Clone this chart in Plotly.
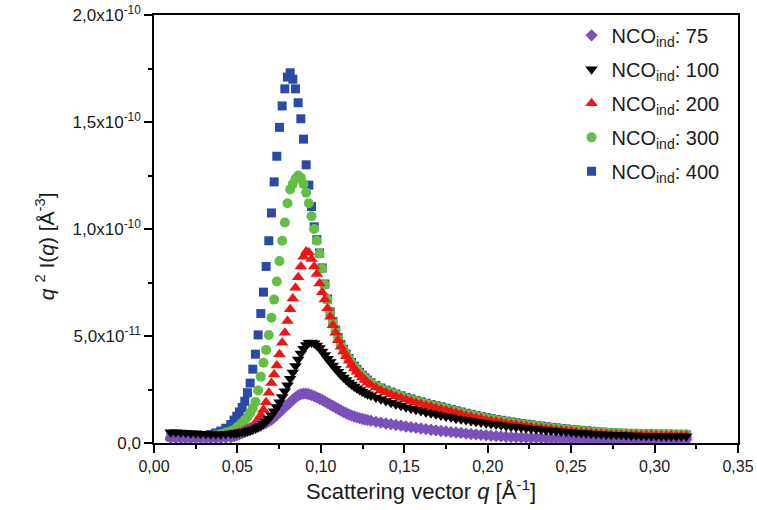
import plotly.graph_objects as go

# scattering vector q [1/Å] (shared by all five curves)
q = [
    0.010, 0.013, 0.016, 0.019, 0.022, 0.025, 0.028, 0.031, 0.034, 0.037, 0.040, 0.043, 0.046,
    0.0480, 0.0496, 0.0512, 0.0528, 0.0544, 0.0560, 0.0576, 0.0592, 0.0608, 0.0624,
    0.0640, 0.0656, 0.0672, 0.0688, 0.0704, 0.0720, 0.0736, 0.0752, 0.0768, 0.0784,
    0.0800, 0.0816, 0.0832, 0.0848, 0.0864, 0.0880, 0.0896, 0.0912, 0.0928, 0.0944,
    0.0960, 0.0976, 0.0992, 0.1008, 0.1024, 0.1040, 0.1056, 0.1072, 0.1088, 0.1104,
    0.1120, 0.1136, 0.1152, 0.1168, 0.1184, 0.1200, 0.1216, 0.1232, 0.1248, 0.1264, 0.1280,
    0.130, 0.133, 0.136, 0.139, 0.142, 0.145, 0.148, 0.151,
    0.154, 0.157, 0.160, 0.163, 0.166, 0.169, 0.172, 0.175,
    0.178, 0.181, 0.184, 0.187, 0.190, 0.193, 0.196, 0.199,
    0.202, 0.205, 0.208, 0.211, 0.214, 0.217, 0.220, 0.223,
    0.226, 0.229, 0.232, 0.235, 0.238, 0.241, 0.244, 0.247,
    0.250, 0.253, 0.256, 0.259, 0.262, 0.265, 0.268, 0.271,
    0.274, 0.277, 0.280, 0.283, 0.286, 0.289, 0.292, 0.295,
    0.298, 0.301, 0.304, 0.307, 0.310, 0.313, 0.316, 0.319,
]

# q^2 I(q) in units of 1e-11 Å^-3
nco75 = [
    0.24, 0.23, 0.23, 0.22, 0.22, 0.22, 0.22, 0.22, 0.22, 0.22, 0.23, 0.24, 0.27,
    0.32, 0.36, 0.41, 0.46, 0.51, 0.56, 0.61, 0.66, 0.71, 0.77,
    0.83, 0.88, 0.94, 1.02, 1.10, 1.20, 1.31, 1.43, 1.55, 1.67,
    1.78, 1.90, 2.02, 2.13, 2.22, 2.28, 2.31, 2.31, 2.28, 2.24,
    2.19, 2.13, 2.07, 2.01, 1.94, 1.87, 1.80, 1.73, 1.66, 1.59,
    1.52, 1.45, 1.39, 1.33, 1.28, 1.24, 1.20, 1.16, 1.13, 1.10, 1.07,
    1.04, 0.99, 0.95, 0.91, 0.88, 0.84, 0.81, 0.77,
    0.74, 0.71, 0.68, 0.65, 0.62, 0.59, 0.56, 0.54,
    0.51, 0.49, 0.47, 0.44, 0.42, 0.40, 0.38, 0.36,
    0.34, 0.32, 0.31, 0.29, 0.28, 0.27, 0.26, 0.25,
    0.24, 0.24, 0.23, 0.22, 0.21, 0.21, 0.20, 0.20,
    0.19, 0.19, 0.19, 0.18, 0.18, 0.18, 0.17, 0.17,
    0.17, 0.17, 0.16, 0.16, 0.16, 0.16, 0.15, 0.15,
    0.15, 0.15, 0.15, 0.15, 0.15, 0.15, 0.15, 0.15,
]
nco100 = [
    0.50, 0.50, 0.49, 0.48, 0.46, 0.45, 0.43, 0.42, 0.41, 0.41, 0.41, 0.42, 0.44,
    0.45, 0.47, 0.49, 0.51, 0.53, 0.56, 0.59, 0.63, 0.68, 0.74,
    0.80, 0.90, 1.02, 1.15, 1.30, 1.48, 1.68, 1.90, 2.15, 2.42,
    2.70, 3.00, 3.30, 3.60, 3.90, 4.18, 4.40, 4.58, 4.68, 4.70,
    4.66, 4.56, 4.44, 4.28, 4.11, 3.94, 3.78, 3.62, 3.47, 3.33,
    3.19, 3.06, 2.94, 2.83, 2.73, 2.64, 2.56, 2.48, 2.41, 2.34, 2.28,
    2.22, 2.13, 2.04, 1.96, 1.88, 1.81, 1.74, 1.67,
    1.61, 1.55, 1.49, 1.44, 1.39, 1.34, 1.29, 1.24,
    1.20, 1.15, 1.11, 1.07, 1.03, 0.99, 0.96, 0.92,
    0.89, 0.86, 0.83, 0.80, 0.77, 0.75, 0.72, 0.70,
    0.67, 0.65, 0.63, 0.60, 0.58, 0.56, 0.54, 0.52,
    0.50, 0.48, 0.47, 0.45, 0.44, 0.42, 0.41, 0.40,
    0.39, 0.38, 0.37, 0.36, 0.35, 0.35, 0.34, 0.34,
    0.33, 0.33, 0.32, 0.32, 0.32, 0.31, 0.31, 0.31,
]
nco200 = [
    0.26, 0.25, 0.25, 0.25, 0.25, 0.25, 0.25, 0.26, 0.27, 0.29, 0.32, 0.35, 0.39,
    0.42, 0.46, 0.50, 0.54, 0.59, 0.65, 0.72, 0.80, 0.93, 1.10,
    1.30, 1.55, 1.90, 2.35, 2.80, 3.20, 3.62, 4.15, 4.68, 5.15,
    5.70, 6.25, 6.75, 7.25, 7.75, 8.25, 8.70, 8.95, 8.90, 8.60,
    8.25, 7.90, 7.45, 7.05, 6.70, 6.30, 5.90, 5.50, 5.15, 4.80,
    4.50, 4.27, 4.05, 3.84, 3.65, 3.48, 3.33, 3.19, 3.06, 2.94, 2.83,
    2.72, 2.59, 2.47, 2.37, 2.28, 2.19, 2.11, 2.03,
    1.96, 1.89, 1.82, 1.76, 1.70, 1.64, 1.59, 1.53,
    1.47, 1.41, 1.35, 1.29, 1.24, 1.19, 1.14, 1.09,
    1.04, 1.00, 0.96, 0.92, 0.89, 0.86, 0.82, 0.79,
    0.76, 0.73, 0.70, 0.67, 0.64, 0.62, 0.59, 0.57,
    0.55, 0.53, 0.51, 0.49, 0.47, 0.46, 0.44, 0.43,
    0.42, 0.41, 0.40, 0.39, 0.38, 0.38, 0.37, 0.37,
    0.37, 0.36, 0.36, 0.36, 0.36, 0.35, 0.35, 0.35,
]
nco300 = [
    0.26, 0.25, 0.25, 0.25, 0.25, 0.25, 0.26, 0.28, 0.31, 0.36, 0.42, 0.49, 0.56,
    0.62, 0.72, 0.82, 0.94, 1.06, 1.22, 1.40, 1.62, 1.92, 2.45,
    3.10, 3.75, 4.35, 5.05, 5.85, 6.70, 7.55, 8.50, 9.45, 10.30,
    11.20, 11.85, 12.10, 12.35, 12.50, 12.40, 12.10, 11.70, 11.20, 10.60,
    10.00, 9.45, 8.85, 8.15, 7.40, 6.70, 6.10, 5.65, 5.25, 4.90,
    4.58, 4.35, 4.13, 3.92, 3.73, 3.56, 3.41, 3.27, 3.14, 3.02, 2.91,
    2.79, 2.66, 2.54, 2.44, 2.35, 2.26, 2.18, 2.10,
    2.03, 1.96, 1.89, 1.83, 1.77, 1.71, 1.66, 1.60,
    1.54, 1.48, 1.42, 1.36, 1.31, 1.26, 1.21, 1.16,
    1.11, 1.07, 1.03, 0.99, 0.95, 0.92, 0.88, 0.85,
    0.82, 0.79, 0.76, 0.73, 0.70, 0.68, 0.65, 0.63,
    0.61, 0.59, 0.57, 0.55, 0.53, 0.52, 0.50, 0.49,
    0.48, 0.47, 0.46, 0.45, 0.44, 0.44, 0.43, 0.43,
    0.43, 0.42, 0.42, 0.42, 0.42, 0.41, 0.41, 0.41,
]
nco400 = [
    0.27, 0.26, 0.26, 0.26, 0.26, 0.27, 0.29, 0.33, 0.40, 0.47, 0.56, 0.69, 0.86,
    1.07, 1.25, 1.45, 1.66, 1.95, 2.35, 2.80, 3.45, 4.15, 5.05,
    6.05, 7.05, 8.25, 9.45, 10.75, 12.20, 13.40, 14.75, 15.75, 16.55,
    17.10, 17.30, 17.00, 16.55, 15.90, 15.15, 14.20, 13.00, 12.05, 11.05,
    10.10, 9.50, 8.88, 8.18, 7.43, 6.73, 6.13, 5.68, 5.28, 4.93,
    4.61, 4.38, 4.16, 3.95, 3.76, 3.59, 3.44, 3.30, 3.17, 3.05, 2.94,
    2.82, 2.69, 2.57, 2.47, 2.38, 2.29, 2.21, 2.13,
    2.06, 1.99, 1.92, 1.86, 1.80, 1.74, 1.69, 1.63,
    1.57, 1.51, 1.45, 1.39, 1.34, 1.29, 1.24, 1.19,
    1.14, 1.10, 1.06, 1.02, 0.98, 0.95, 0.91, 0.88,
    0.85, 0.82, 0.79, 0.76, 0.73, 0.71, 0.68, 0.66,
    0.63, 0.61, 0.59, 0.57, 0.55, 0.53, 0.51, 0.49,
    0.47, 0.46, 0.45, 0.44, 0.43, 0.42, 0.41, 0.41,
    0.40, 0.40, 0.39, 0.39, 0.39, 0.38, 0.38, 0.38,
]

y_tickvals = [0, 5e-11, 1e-10, 1.5e-10, 2e-10]
y_ticktext = ["0,0", "5,0x10<sup>-11</sup>", "1,0x10<sup>-10</sup>",
              "1,5x10<sup>-10</sup>", "2,0x10<sup>-10</sup>"]

FONT = "Liberation Sans, Arial, sans-serif"

# drawing order: 400 at the bottom, 100 on top; legendrank keeps 75..400 order
series = [
    ("400", nco400, "square", 9, "#2b4aa8", 5),
    ("300", nco300, "circle", 10, "#64be45", 4),
    ("200", nco200, "triangle-up", 11, "#f01414", 3),
    ("75", nco75, "diamond", 9.5, "#7a50ba", 1),
    ("100", nco100, "triangle-down", 11, "#000000", 2),
]

fig = go.Figure()
for label, vals, sym, size, color, rank in series:
    fig.add_trace(go.Scatter(
        x=q, y=[v * 1e-11 for v in vals], mode="markers",
        name=f"NCO<sub>ind</sub>: {label}",
        legendgroup=label, legendrank=rank,
        marker=dict(symbol=sym, size=size, color=color, line=dict(width=0)),
    ))

axis_common = dict(showgrid=False, zeroline=False, showline=True, linecolor="black",
                   linewidth=1.5, mirror=True, ticks="outside", ticklen=8,
                   tickwidth=1.5, tickcolor="black", automargin=False,
                   ticklabeloverflow="allow")

fig.update_layout(
    width=757, height=510,
    margin=dict(l=154, r=19, t=15, b=67),
    paper_bgcolor="white", plot_bgcolor="white",
    font=dict(family=FONT, color="#1a1a1a"),
    separators=", ",
    showlegend=True,
    legend=dict(x=0.715, y=0.998, xanchor="left", yanchor="top",
                font=dict(size=20, family=FONT, color="#1a1a1a"),
                bgcolor="rgba(0,0,0,0)", tracegroupgap=5,
                traceorder="grouped", itemsizing="trace"),
    xaxis=dict(axis_common, range=[0, 0.35], tickmode="linear", tick0=0, dtick=0.05,
               tickformat=".2f", tickfont=dict(size=16),
               minor=dict(ticks="outside", ticklen=4, tickwidth=1.5, tickcolor="black",
                          tick0=0, dtick=0.025, showgrid=False)),
    yaxis=dict(axis_common, range=[0, 2e-10], tickmode="array",
               tickvals=y_tickvals, ticktext=y_ticktext, tickfont=dict(size=17),
               minor=dict(ticks="outside", ticklen=4, tickwidth=1.5, tickcolor="black",
                          tickmode="linear", tick0=0, dtick=2.5e-11, showgrid=False)),
    # inward ticks on the top and right frame
    xaxis2=dict(overlaying="x", side="top", anchor="y", range=[0, 0.35],
                tickmode="linear", tick0=0, dtick=0.05, ticks="inside", ticklen=8,
                tickwidth=1.5, tickcolor="black", showticklabels=False,
                showgrid=False, zeroline=False, showline=False,
                minor=dict(ticks="inside", ticklen=4, tickwidth=1.5, tickcolor="black",
                           tick0=0, dtick=0.025, showgrid=False)),
    yaxis2=dict(overlaying="y", side="right", anchor="x", range=[0, 2e-10],
                tickmode="linear", tick0=0, dtick=5e-11, ticks="inside", ticklen=8,
                tickwidth=1.5, tickcolor="black", showticklabels=False,
                showgrid=False, zeroline=False, showline=False,
                minor=dict(ticks="inside", ticklen=4, tickwidth=1.5, tickcolor="black",
                           tick0=0, dtick=2.5e-11, showgrid=False)),
)

# axis titles placed as in the original figure
fig.add_annotation(text="Scattering vector <i>q</i> [Å<sup>-1</sup>]",
                   xref="paper", yref="paper", x=0.457, y=-0.11,
                   xanchor="center", yanchor="middle", showarrow=False,
                   font=dict(size=22, family=FONT, color="#1a1a1a"))
fig.add_annotation(text="<i>q</i> <sup>2</sup> I(<i>q</i>) [Å<sup>-3</sup>]",
                   xref="paper", yref="paper", x=-0.1866, y=0.46, textangle=-90,
                   xanchor="center", yanchor="middle", showarrow=False,
                   font=dict(size=21, family=FONT, color="#1a1a1a"))

# drop the default page margin so the 757x510 figure fills the window exactly
fig.write_html("out.html", config={"displayModeBar": False},
               post_script="document.body.style.margin='0';")
